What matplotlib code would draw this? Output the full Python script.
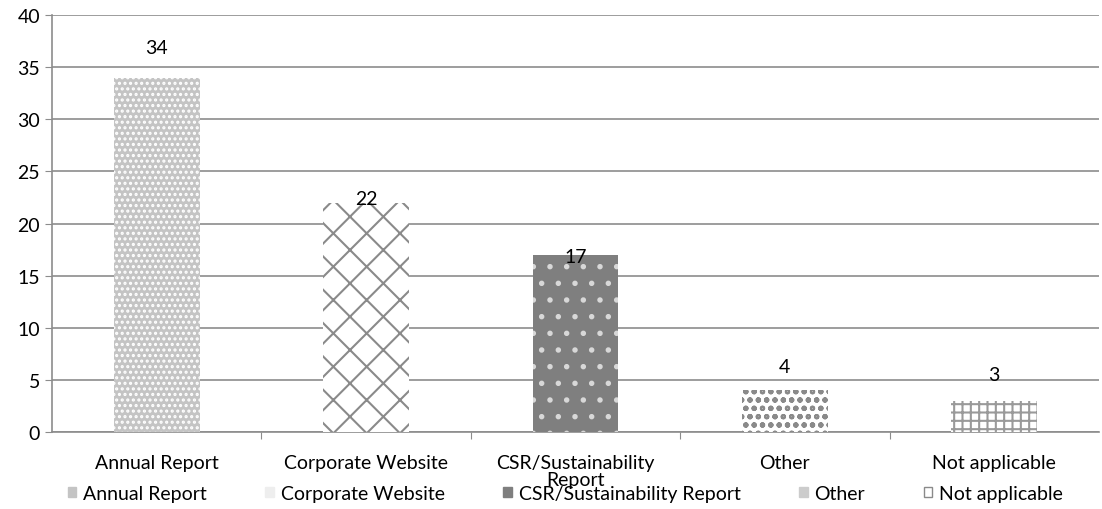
import matplotlib.pyplot as plt
from matplotlib.patches import Patch

plt.rcParams['font.family'] = ['Lato', 'DejaVu Sans']
plt.rcParams['hatch.linewidth'] = 1.5

# dati
categories = ['Annual Report', 'Corporate Website', 'CSR/Sustainability\nReport', 'Other', 'Not applicable']
legend_labels = ['Annual Report', 'Corporate Website', 'CSR/Sustainability Report', 'Other', 'Not applicable']
values = [34, 22, 17, 4, 3]
label_y = [36.9, 22.4, 16.8, 6.3, 5.5]  # posizione delle etichette come nel grafico originale

faces = ['#c4c4c4', 'white', '#7f7f7f', 'white', 'white']
hatch_cols = ['white', '#8a8a8a', '#d8d8d8', '#8a8a8a', '#9a9a9a']
hatches = ['...', 'x', '.', 'oo', '++']

fs = 14

fig = plt.figure(figsize=(11.02, 5.1), dpi=100)
ax = fig.add_axes([52 / 1102, 77 / 510, 1047 / 1102, 417 / 510])

x = list(range(len(values)))
bars = ax.bar(x, values, width=0.41, color=faces, edgecolor=hatch_cols, linewidth=0, zorder=3)
for b, h in zip(bars, hatches):
    b.set_hatch(h)

for xi, v, ly in zip(x, values, label_y):
    ax.text(xi, ly, str(v), ha='center', va='center', fontsize=fs, zorder=4)

ax.set_xlim(-0.5, len(values) - 0.5)
ax.set_ylim(0, 40)
ax.set_yticks(range(0, 41, 5))
ax.yaxis.grid(True, color='#8c8c8c', linewidth=1.2, zorder=0)

ax.set_xticks([i + 0.5 for i in range(len(values) - 1)])
ax.set_xticklabels([])
ax.set_xticks(x, minor=True)
ax.set_xticklabels(categories, minor=True, fontsize=fs, linespacing=0.95)
ax.tick_params(axis='x', which='minor', length=0, pad=16)
ax.tick_params(axis='x', which='major', length=5, color='#8c8c8c', direction='out')
ax.tick_params(axis='y', length=5, color='#8c8c8c', labelsize=fs)

for s in ['top', 'right']:
    ax.spines[s].set_visible(False)
for s in ['left', 'bottom']:
    ax.spines[s].set_color('#8c8c8c')
    ax.spines[s].set_linewidth(1.2)

# marcatori della legenda: piccoli quadrati grigi
leg_faces = ['#c4c4c4', '#eeeeee', '#7f7f7f', '#cccccc', 'white']
leg_edges = ['#c4c4c4', '#eeeeee', '#7f7f7f', '#cccccc', '#8a8a8a']
handles = [Patch(facecolor=f, edgecolor=e, linewidth=1) for f, e in zip(leg_faces, leg_edges)]
fig.legend(handles, legend_labels, loc='lower center', bbox_to_anchor=(0.513, -0.02), ncol=5,
           frameon=False, fontsize=fs, handlelength=0.45, handleheight=0.45, handletextpad=0.35,
           columnspacing=3.0)

fig.savefig('out.png', dpi=100)
